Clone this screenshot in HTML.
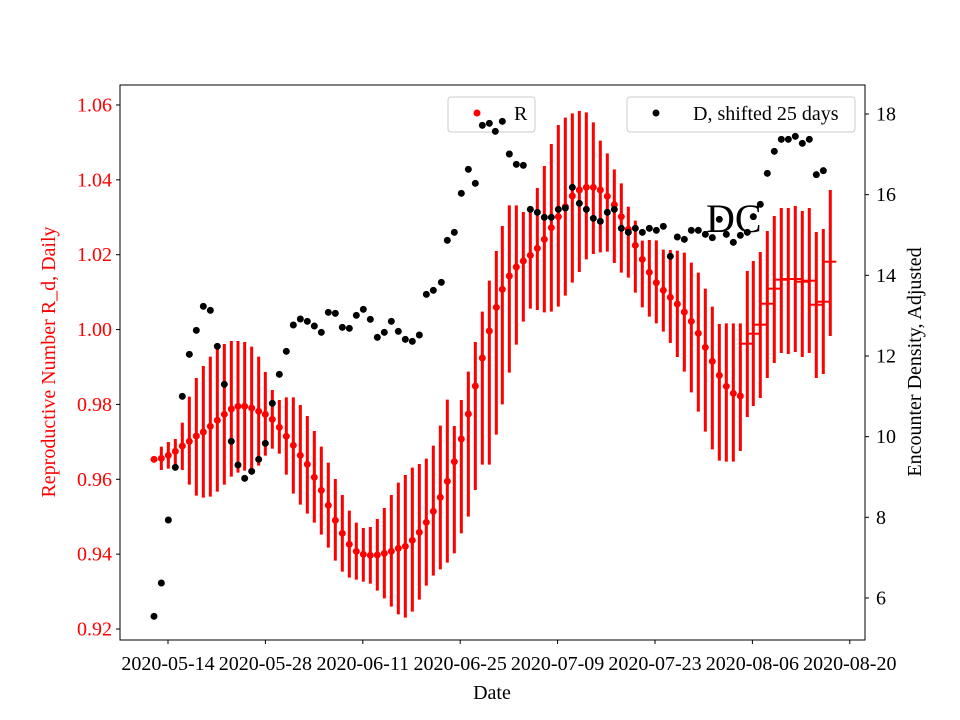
<!DOCTYPE html>
<html><head><meta charset="utf-8"><style>
html,body{margin:0;padding:0;background:#fff;}
svg{display:block;font-family:"Liberation Serif",serif;}
</style></head><body>
<svg id="s" width="960" height="720" viewBox="0 0 960 720" xmlns="http://www.w3.org/2000/svg">
<rect x="0" y="0" width="960" height="720" fill="#fff"/>
<rect x="448" y="97" width="87" height="35" rx="3" fill="#fff" fill-opacity="0.8" stroke="#ccc"/>
<rect x="627" y="97" width="228" height="35" rx="3" fill="#fff" fill-opacity="0.8" stroke="#ccc"/>
<g id="bars"></g>
<g id="dots"></g>
<text x="706" y="232" font-size="40" fill="#000">DC</text>
<rect x="120" y="85" width="745" height="555" fill="none" stroke="#000" stroke-width="1"/>
<g id="ticks" font-size="20"></g>
<text x="492" y="699" font-size="20" text-anchor="middle">Date</text>
<text transform="translate(55,362) rotate(-90)" font-size="20" text-anchor="middle" fill="red">Reproductive Number R_d, Daily</text>
<text transform="translate(921,362) rotate(-90)" font-size="20" text-anchor="middle">Encounter Density, Adjusted</text>
<circle cx="477" cy="113" r="3.5" fill="red"/>
<text x="514" y="120" font-size="20">R</text>
<circle cx="656" cy="113" r="3.5" fill="#000"/>
<text x="693" y="120" font-size="20">D, shifted 25 days</text>
</svg>
<script>
var NS="http://www.w3.org/2000/svg";
function el(p,t,a){var e=document.createElementNS(NS,t);for(var k in a)e.setAttribute(k,a[k]);p.appendChild(e);return e;}
var bars=document.getElementById('bars'),dots=document.getElementById('dots'),ticks=document.getElementById('ticks');
var z1=[[102,538,530,545],[124,535,500,570],[145,526,486,566],[166,514,477,570],[187,498,428,570],[208,484,350,614],[229,468,294,647],[250,456,258,653],[271,439,230,650],[292,421,198,635],[313,403,192,614],[334,387,183,590],[354,379,183,578],[374,379,186,572],[395,384,200,566],[416,394,230,557],[436,403,276,527],[457,418,330,506],[478,442,360,521],[499,469,352,584],[520,496,352,641],[541,526,375,674],[562,553,408,701],[583,592,453,728],[604,631,500,764],[625,676,548,803],[646,721,597,842],[667,760,645,875],[688,793,692,893],[709,814,728,899],[730,823,744,905],[751,826,741,911],[772,825,717,932],[793,820,684,955],[814,814,645,980],[835,805,608,1003],[856,799,585,1013],[877,781,563,995],[898,757,552,959],[919,727,536,917],[940,694,497,887],[961,652,437,868],[982,604,359,848]];
var R=[];
z1.forEach(function(a){R.push([120+a[0]/3,280+a[1]/3,280+a[2]/3,280+a[3]/3,0]);});
var z2=[[43,1115,1008,1390],[64,1047,930,1330],[85,972,845,1280],[106,888,756,1200],[127,804,665,1124],[148,723,572,1124],[169,652,483,1034],[187,598,408,943],[208,558,346,848],[229,531,346,764],[250,513,366,695],[271,496,366,656],[292,475,294,660],[313,448,228,667],[334,413,162,665],[355,380,105,650],[376,350,83,617],[397,318,70,578],[418,300,63,546],[439,292,67,508],[460,292,97,492],[481,300,152,487],[502,319,190,485],[523,344,238,519],[544,380,280,548],[565,418,350,563],[586,466,392,608],[607,508,452,652],[628,547,450,680],[649,578,451,700],[670,601,479,725],[691,622,480,759],[712,642,482,801],[733,666,488,845],[754,694,518,907],[775,730,548,965],[796,772,596,1025],[817,814,650,1078],[838,856,702,1112],[859,889,700,1115],[880,910,700,1115],[901,918,700,1083]];
z2.forEach(function(a){R.push([440+a[0]/3,90+a[1]/3,90+a[2]/3,90+a[3]/3,0]);});
var H=[[747.3,343.7,271,417],[753.3,333.7,261,406],[760.3,324.7,252,398],[767.3,303.7,231,378],[774.3,288.7,216,363],[781.3,279.7,208,353],[788.3,279,208,354],[795.3,279,206,352],[802.3,281.7,211,357],[809.3,280.7,208,353],[816.3,304.7,232,378],[823.3,301.7,229,374],[830.3,261.7,190,336]];
H.forEach(function(a){R.push([a[0],a[1],a[2],a[3],1]);});
R.forEach(function(p){
 el(bars,'line',{x1:p[0],x2:p[0],y1:p[2],y2:p[3],stroke:'red','stroke-width':3});
 if(p[4]) el(bars,'line',{x1:p[0]-6,x2:p[0]+6,y1:p[1],y2:p[1],stroke:'red','stroke-width':2});
 else el(bars,'circle',{cx:p[0],cy:p[1],r:3.5,fill:'red'});
});
var b1=[[102,1009],[124,909],[145,720],[166,562],[187,349],[208,223],[229,151],[250,79],[271,91],[292,199],[313,313],[334,484],[354,555],[374,595],[395,574],[416,538],[436,490],[457,370],[478,283],[499,214],[520,135],[541,117],[562,124],[583,138],[604,157],[625,97],[646,100],[667,142],[688,145],[709,106],[730,88],[751,118],[772,172],[793,157],[814,124],[835,154],[856,178],[877,184],[898,165],[919,43],[940,31]];
b1.forEach(function(a){el(dots,'circle',{cx:120+a[0]/3,cy:280+a[1]/3,r:3.5,fill:'#000'});});
var b2=[[4,577],[22,451],[43,427],[64,310],[85,238],[106,280],[127,106],[148,100],[166,124],[187,94],[208,192],[229,223],[250,226],[271,358],[292,367],[313,382],[334,382],[355,358],[376,354],[397,292],[418,340],[439,358],[460,385],[481,394],[502,367],[523,358],[544,415],[565,427],[586,415],[607,427],[628,415],[649,421],[670,409],[691,499],[712,441],[733,448],[754,421],[775,421],[796,433],[817,443],[838,388],[859,433],[880,457],[901,436],[922,427],[940,380],[961,343],[982,250],[1003,184],[1024,148],[1045,148],[1066,139],[1087,160],[1108,148],[1129,254],[1150,242]];
b2.forEach(function(a){el(dots,'circle',{cx:440+a[0]/3,cy:90+a[1]/3,r:3.5,fill:'#000'});});
for(var i=0;i<8;i++){var v=0.92+0.02*i,y=629-i*74.86;
 el(ticks,'line',{x1:116,x2:120,y1:y,y2:y,stroke:'#000'});
 var t=el(ticks,'text',{x:112,y:y+6.5,'text-anchor':'end',fill:'red'});t.textContent=v.toFixed(2);}
for(var i=0;i<7;i++){var v=6+2*i,y=598-i*80.67;
 el(ticks,'line',{x1:865,x2:869,y1:y,y2:y,stroke:'#000'});
 var t=el(ticks,'text',{x:876,y:y+6.5});t.textContent=v;}
var dl=['2020-05-14','2020-05-28','2020-06-11','2020-06-25','2020-07-09','2020-07-23','2020-08-06','2020-08-20'];
for(var i=0;i<8;i++){var x=168+i*97.4;
 el(ticks,'line',{x1:x,x2:x,y1:640,y2:644,stroke:'#000'});
 var t=el(ticks,'text',{x:x,y:670,'text-anchor':'middle'});t.textContent=dl[i];}
</script>
</body></html>
